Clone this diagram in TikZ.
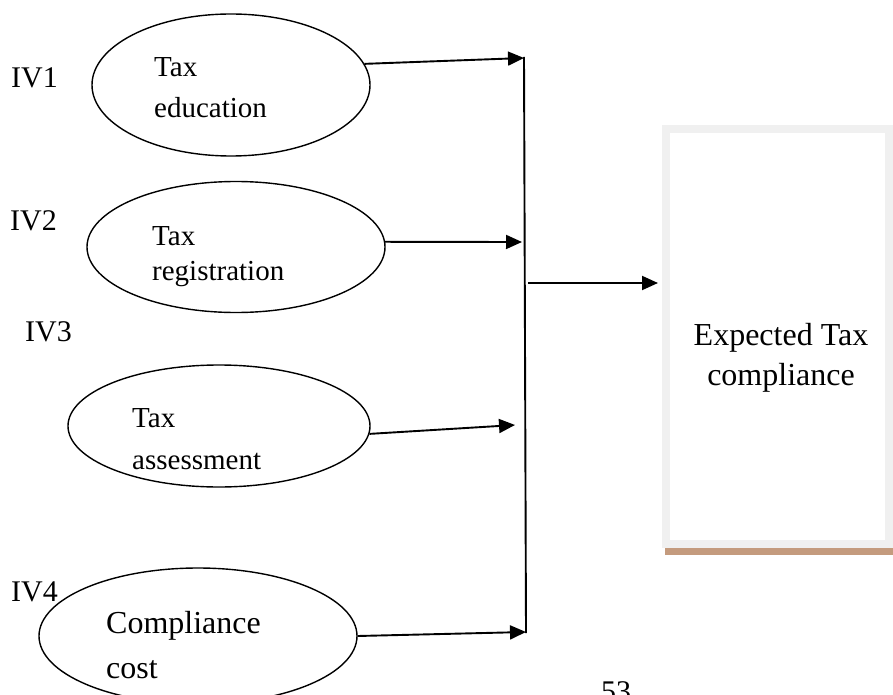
\documentclass[tikz,border=0pt]{standalone}
\usepackage{fontspec}
\setmainfont{Liberation Serif}
\usetikzlibrary{shapes.geometric,arrows.meta}
\definecolor{boxgray}{RGB}{240,240,240}
\definecolor{tanline}{RGB}{196,155,126}
\begin{document}
\begin{tikzpicture}[x=1pt,y=-1pt,
 ell/.style={draw, ellipse, line width=1.4pt, inner sep=0pt},
 txt/.style={anchor=base west, inner sep=0pt, font=\fontsize{29}{34}\selectfont},
 ivl/.style={anchor=base west, inner sep=0pt, font=\fontsize{30}{36}\selectfont},
 big/.style={anchor=base west, inner sep=0pt, font=\fontsize{32}{38}\selectfont},
 ctr/.style={anchor=base, inner sep=0pt, font=\fontsize{32}{38}\selectfont},
 arr/.style={line width=1.9pt, -{Triangle[length=16pt,width=14pt]}},
 vline/.style={line width=1.9pt}]
\useasboundingbox (0,0) rectangle (893,695);
\clip (0,0) rectangle (893,695);

% outcome box
\node[draw=boxgray, line width=8pt, minimum width=223pt, minimum height=415pt, inner sep=0pt] (box) at (777.5,336.5) {};
\draw[tanline, line width=7pt] (665,551.5) -- (893,551.5);
\node[ctr] (o1) at (781,345) {Expected Tax};
\node[ctr] (o2) at (781,385) {compliance};

% ellipses
\node[ell, minimum width=278pt, minimum height=142pt] (e1) at (231,85) {};
\node[ell, minimum width=298pt, minimum height=131pt] (e2) at (236,247) {};
\node[ell, minimum width=302pt, minimum height=122pt] (e3) at (219,426) {};
\node[ell, minimum width=318pt, minimum height=136pt] (e4) at (198,636) {};

% texts
\node[txt] (a1) at (154,77) {Tax};
\node[txt] (a2) at (154,118) {education};
\node[txt] (b1) at (152,245) {Tax};
\node[txt] (b2) at (152,280) {registration};
\node[txt] (c1) at (132,427) {Tax};
\node[txt] (c2) at (132,469) {assessment};
\node[big] (d1) at (106,633) {Compliance};
\node[big] (d2) at (106,678) {cost};

\node[ivl] (iv1) at (11,88) {IV1};
\node[ivl] (iv2) at (10,230) {IV2};
\node[ivl] (iv3) at (25,341) {IV3};
\node[ivl] (iv4) at (11,601) {IV4};

% connectors
\coordinate (t1) at (524,58);
\coordinate (t2) at (522,242);
\coordinate (t3) at (515,425);
\coordinate (t4) at (526,632);
\coordinate (vt) at (524,57);
\coordinate (vb) at (526,633);
\coordinate (m1) at (528,283);

\draw[vline] (vt) -- (vb);
\draw[arr] (e1.9) -- (t1);
\draw[arr] (e2.2) -- (t2);
\draw[arr] (e3.-3) -- (t3);
\draw[arr] (e4.east) -- (t4);
\draw[arr, shorten >=4pt] (m1) -- (m1 -| box.west);

\node[ctr, font=\fontsize{30}{36}\selectfont] (pg) at (616,701) {53};
\end{tikzpicture}
\end{document}
